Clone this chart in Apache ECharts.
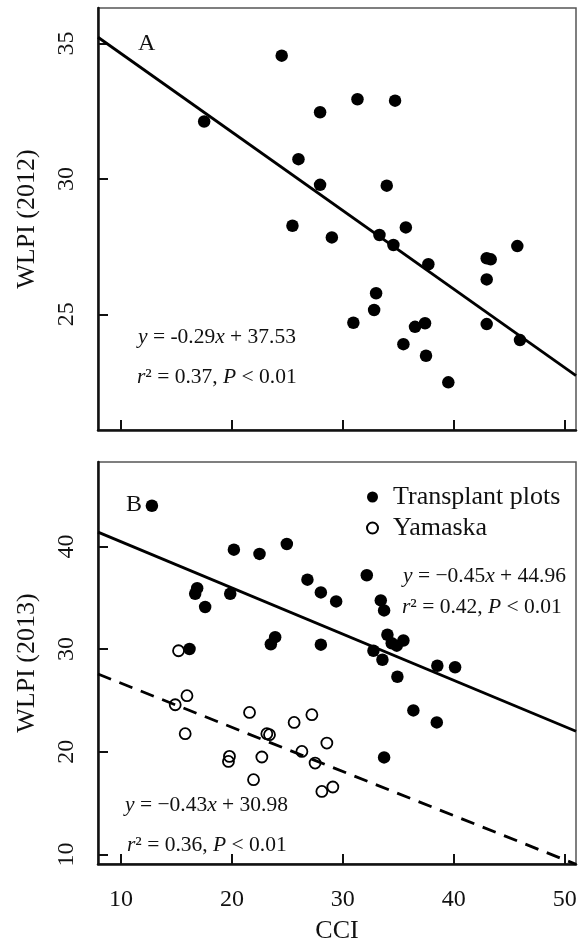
<!DOCTYPE html>
<html>
<head>
<meta charset="utf-8">
<script src="https://cdn.jsdelivr.net/npm/echarts@6/dist/echarts.min.js"></script>
<style>
  html, body { margin: 0; padding: 0; background: #ffffff; }
  #chart { width: 580px; height: 945px; }
</style>
</head>
<body>
<div id="chart"></div>
<script>
// Axis extents and tick marks
const cciRange = [7.93, 51.02];
const cciTicks = [10, 20, 30, 40, 50];
const wlpi2012Range = [20.73, 36.31];
const wlpi2012Ticks = [25, 30, 35];
const wlpi2013Range = [9.07, 48.22];
const wlpi2013Ticks = [10, 20, 30, 40];

// Panel A: CCI vs WLPI (2012)
const plots2012 = [
  [17.50, 32.12], [24.49, 34.55], [27.95, 32.46], [31.32, 32.94], [34.71, 32.89],
  [26.00, 30.73], [27.95, 29.78], [33.96, 29.75], [25.46, 28.27], [29.01, 27.84],
  [33.30, 27.93], [35.68, 28.21], [34.56, 27.56], [37.71, 26.85], [42.97, 27.07],
  [43.33, 27.03], [42.97, 26.29], [45.73, 27.52], [33.00, 25.78], [32.82, 25.16],
  [30.95, 24.69], [36.51, 24.54], [37.41, 24.67], [35.46, 23.90], [37.50, 23.47],
  [39.51, 22.49], [42.97, 24.64], [45.97, 24.05]
];

// Panel B: CCI vs WLPI (2013)
const transplant2013 = [
  [12.79, 43.96], [20.18, 39.68], [22.49, 39.27], [24.95, 40.23], [16.87, 35.93],
  [16.69, 35.39], [19.85, 35.39], [17.59, 34.10], [16.18, 30.01], [23.90, 31.16],
  [23.51, 30.47], [26.81, 36.76], [28.02, 35.52], [29.40, 34.64], [32.16, 37.19],
  [33.42, 34.74], [33.72, 33.77], [34.02, 31.40], [34.41, 30.57], [34.86, 30.33],
  [35.46, 30.84], [28.02, 30.43], [32.76, 29.84], [33.57, 28.96], [34.92, 27.31],
  [38.52, 28.38], [40.12, 28.23], [36.36, 24.03], [38.47, 22.86], [33.72, 19.45]
];
const yamaska2013 = [
  [15.19, 29.84], [15.95, 25.46], [14.89, 24.58], [15.79, 21.76], [21.59, 23.83],
  [25.61, 22.86], [27.21, 23.61], [23.15, 21.76], [23.39, 21.66], [28.56, 20.85],
  [19.78, 19.55], [19.69, 19.06], [22.70, 19.49], [26.31, 20.03], [27.50, 18.90],
  [21.95, 17.28], [28.11, 16.14], [29.10, 16.57]
];

// Fitted regressions: [slope, intercept, r2]
const fit2012 = [-0.29, 37.53, 0.37];
const fitTransplant = [-0.45, 44.96, 0.42];
const fitYamaska = [-0.43, 30.98, 0.36];

const FONT = '"Liberation Serif", "DejaVu Serif", "Times New Roman", serif';
const EQ_SIZE = 21.5;

function fitLine(fit) {
  return cciRange.map(x => [x, fit[0] * x + fit[1]]);
}

const rich = {
  i: { fontStyle: 'italic', fontFamily: FONT, fontSize: EQ_SIZE, fill: '#111' },
  n: { fontFamily: FONT, fontSize: EQ_SIZE, fill: '#111' }
};

function eqText(fit, minus) {
  const s = Math.abs(fit[0]).toFixed(2);
  return '{i|y}{n| = ' + minus + s + '}{i|x}{n| + ' + fit[1].toFixed(2) + '}';
}
function statText(fit) {
  return '{i|r}{n|² = ' + fit[2].toFixed(2) + ', }{i|P}{n| < 0.01}';
}

function label(text, x, y, size) {
  return {
    type: 'text', x: x, y: y, z: 100,
    style: {
      text: text, rich: rich, fontFamily: FONT, fontSize: size || EQ_SIZE,
      fill: '#111', verticalAlign: 'middle', align: 'left'
    }
  };
}

const axisLineStyle = { show: true, lineStyle: { color: '#111', width: 2.5 } };
const tickStyle = { show: true, inside: true, length: 10, lineStyle: { color: '#111', width: 2 } };
const tickFont = { fontFamily: FONT, fontSize: 24, color: '#111' };

const chart = echarts.init(document.getElementById('chart'), null, { renderer: 'canvas' });

chart.setOption({
  backgroundColor: '#ffffff',
  animation: false,
  grid: [
    { left: 98, right: 4, top: 8, height: 422, show: true, borderColor: '#555', borderWidth: 1.5, backgroundColor: 'transparent' },
    { left: 98, right: 4, top: 462, height: 402, show: true, borderColor: '#555', borderWidth: 1.5, backgroundColor: 'transparent' }
  ],
  xAxis: [
    {
      type: 'value', gridIndex: 0, min: cciRange[0], max: cciRange[1],
      axisLine: axisLineStyle,
      axisTick: Object.assign({ customValues: cciTicks }, tickStyle),
      axisLabel: { show: false, customValues: cciTicks },
      splitLine: { show: false }
    },
    {
      type: 'value', gridIndex: 1, min: cciRange[0], max: cciRange[1],
      name: 'CCI', nameLocation: 'middle', nameGap: 54,
      nameTextStyle: { fontFamily: FONT, fontSize: 26, color: '#111' },
      axisLine: axisLineStyle,
      axisTick: Object.assign({ customValues: cciTicks }, tickStyle),
      axisLabel: Object.assign({ customValues: cciTicks, margin: 24 }, tickFont),
      splitLine: { show: false }
    }
  ],
  yAxis: [
    {
      type: 'value', gridIndex: 0, min: wlpi2012Range[0], max: wlpi2012Range[1],
      name: 'WLPI (2012)', nameLocation: 'middle', nameGap: 58,
      nameTextStyle: { fontFamily: FONT, fontSize: 26, color: '#111' },
      axisLine: axisLineStyle,
      axisTick: Object.assign({ customValues: wlpi2012Ticks }, tickStyle),
      axisLabel: Object.assign({ customValues: wlpi2012Ticks, rotate: 90, margin: 19 }, tickFont),
      splitLine: { show: false }
    },
    {
      type: 'value', gridIndex: 1, min: wlpi2013Range[0], max: wlpi2013Range[1],
      name: 'WLPI (2013)', nameLocation: 'middle', nameGap: 58,
      nameTextStyle: { fontFamily: FONT, fontSize: 26, color: '#111' },
      axisLine: axisLineStyle,
      axisTick: Object.assign({ customValues: wlpi2013Ticks }, tickStyle),
      axisLabel: Object.assign({ customValues: wlpi2013Ticks, rotate: 90, margin: 19 }, tickFont),
      splitLine: { show: false }
    }
  ],
  legend: {
    data: ['Transplant plots', 'Yamaska'],
    orient: 'vertical', left: 361, top: 479,
    icon: 'circle', itemWidth: 11, itemHeight: 11, itemGap: 5,
    textStyle: { fontFamily: FONT, fontSize: 26, color: '#111', padding: [0, 0, 0, 10] }
  },
  series: [
    {
      name: 'Plots 2012', type: 'line', xAxisIndex: 0, yAxisIndex: 0,
      data: fitLine(fit2012), symbol: 'none', silent: true,
      lineStyle: { color: '#000', width: 2.8 }, z: 2
    },
    {
      name: 'Plots 2012 points', type: 'scatter', xAxisIndex: 0, yAxisIndex: 0,
      data: plots2012, symbol: 'circle', symbolSize: 12.5,
      itemStyle: { color: '#000', opacity: 1 }, z: 3
    },
    {
      name: 'Transplant fit', type: 'line', xAxisIndex: 1, yAxisIndex: 1,
      data: fitLine(fitTransplant), symbol: 'none', silent: true,
      lineStyle: { color: '#000', width: 2.8 }, z: 2
    },
    {
      name: 'Yamaska fit', type: 'line', xAxisIndex: 1, yAxisIndex: 1,
      data: fitLine(fitYamaska), symbol: 'none', silent: true,
      lineStyle: { color: '#000', width: 2.8, type: [14, 9] }, z: 2
    },
    {
      name: 'Transplant plots', type: 'scatter', xAxisIndex: 1, yAxisIndex: 1,
      data: transplant2013, symbol: 'circle', symbolSize: 12.5,
      itemStyle: { color: '#000', opacity: 1 }, z: 3
    },
    {
      name: 'Yamaska', type: 'scatter', xAxisIndex: 1, yAxisIndex: 1,
      data: yamaska2013, symbol: 'circle', symbolSize: 11,
      itemStyle: { color: 'rgba(255,255,255,0)', borderColor: '#000', borderWidth: 1.8, opacity: 1 }, z: 3
    }
  ],
  graphic: [
    label('A', 138, 44, 24),
    label('B', 126, 505, 24),
    label(eqText(fit2012, '-'), 138, 337),
    label(statText(fit2012), 137, 377),
    label(eqText(fitTransplant, '−'), 403, 576),
    label(statText(fitTransplant), 402, 607),
    label(eqText(fitYamaska, '−'), 125, 805),
    label(statText(fitYamaska), 127, 845)
  ]
});
</script>
</body>
</html>
